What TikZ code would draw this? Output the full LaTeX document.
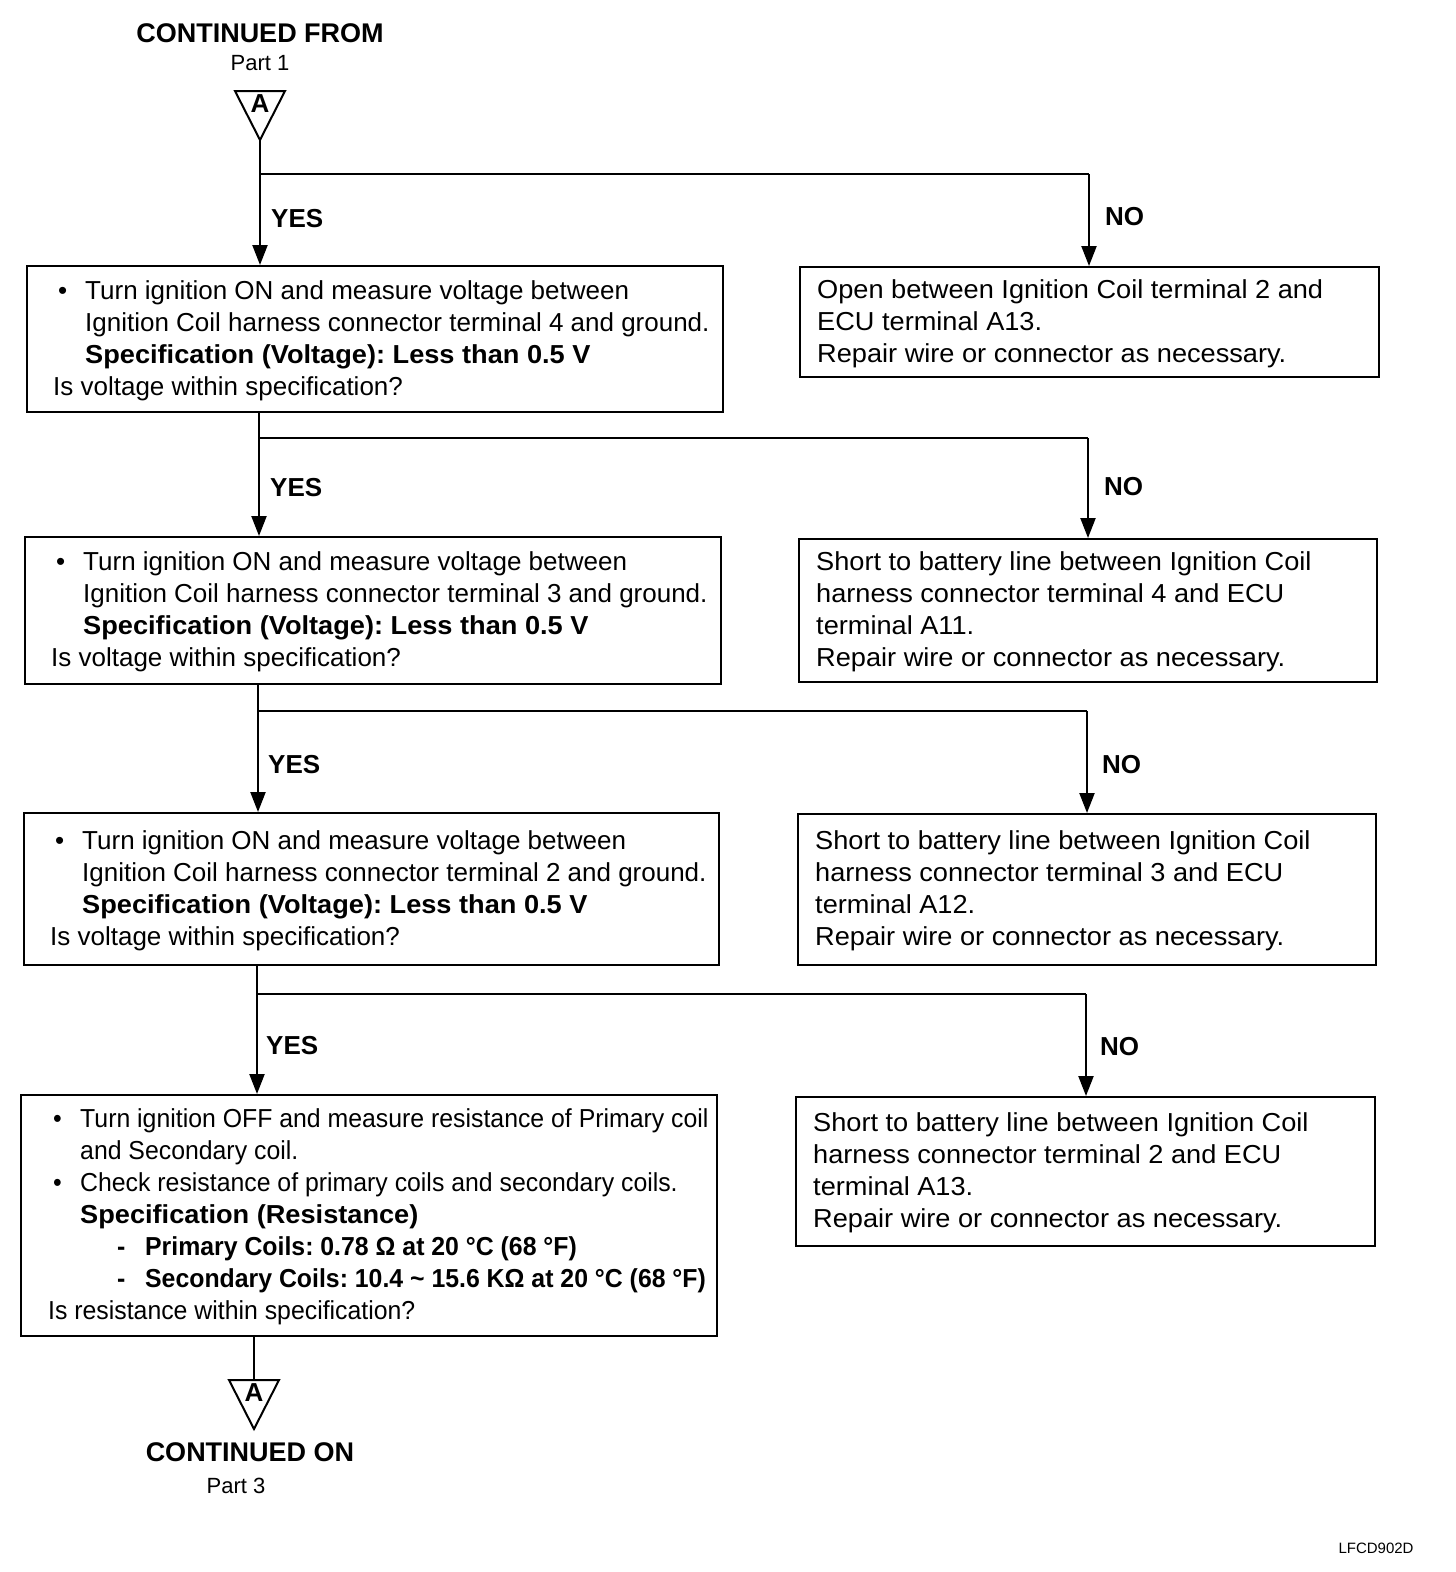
\documentclass[tikz,border=0pt]{standalone}
\usepackage{fontspec}
\setmainfont[FakeStretch=1.045]{Liberation Sans}
\newfontfamily\fLeft[FakeStretch=1.0]{Liberation Sans}
\newfontfamily\fNarrow[FakeStretch=0.955]{Liberation Sans}
\usetikzlibrary{arrows.meta}
\newcommand{\mybul}{\makebox[32pt][l]{\hspace*{5pt}\textbullet}}
\newcommand{\myind}{\hspace*{32pt}}
\newcommand{\mydash}{\hspace*{69pt}\makebox[28pt][l]{\textbf{-}}}
\newcommand{\specline}{{\normalfont\bfseries Specification (Voltage): Less than 0.5 V}}
\tikzset{
  boxs/.style={draw, line width=1.8pt, inner sep=0pt, anchor=north west},
  txt/.style={anchor=west, align=left, inner sep=0pt, yshift=-2pt, font=\fontsize{26}{32}\selectfont\frenchspacing},
  lbl/.style={anchor=west, inner sep=0pt, font=\fLeft\bfseries\fontsize{26}{30}\selectfont},
  hdr/.style={inner sep=0pt, font=\fLeft\bfseries\fontsize{27}{30}\selectfont},
  sub/.style={inner sep=0pt, font=\fLeft\fontsize{22}{26}\selectfont},
  conn/.style={line width=2.2pt},
  arr/.style={conn, -{Triangle[width=15pt,length=20pt]}},
  tri/.style={line width=2pt, line join=miter},
}
\begin{document}
\begin{tikzpicture}[x=1pt,y=-1pt]
\useasboundingbox[fill=white] (0,0) rectangle (1456,1572);

% header
\node[hdr] (cf) at (260,33) {CONTINUED FROM};
\node[sub] (p1) at (260,63) {Part 1};
\coordinate (apexA) at (260,140);
\draw[tri] (235,91) -- (285,91) -- (apexA) -- cycle;
\node[hdr, font=\fLeft\bfseries\fontsize{26}{28}\selectfont] (lA) at (260,104) {A};

% boxes left
\node[boxs, minimum width=696pt, minimum height=146pt] (b1) at (26,265) {};
\node[boxs, minimum width=696pt, minimum height=147pt] (b2) at (24,536) {};
\node[boxs, minimum width=695pt, minimum height=152pt] (b3) at (23,812) {};
\node[boxs, minimum width=696pt, minimum height=241pt] (b4) at (20,1094) {};
% boxes right
\node[boxs, minimum width=579pt, minimum height=110pt] (n1) at (799,266) {};
\node[boxs, minimum width=578pt, minimum height=143pt] (n2) at (798,538) {};
\node[boxs, minimum width=578pt, minimum height=151pt] (n3) at (797,813) {};
\node[boxs, minimum width=579pt, minimum height=149pt] (n4) at (795,1096) {};

% texts left
\node[txt] (t1) at ([xshift=27pt]b1.west) {\fLeft\strut\mybul Turn ignition ON and measure voltage between\\
\fLeft\myind Ignition Coil harness connector terminal 4 and ground.\\
\myind\specline\\
\fLeft Is voltage within specification?\strut};
\node[txt] (t2) at ([xshift=27pt]b2.west) {\fLeft\strut\mybul Turn ignition ON and measure voltage between\\
\fLeft\myind Ignition Coil harness connector terminal 3 and ground.\\
\myind\specline\\
\fLeft Is voltage within specification?\strut};
\node[txt] (t3) at ([xshift=27pt]b3.west) {\fLeft\strut\mybul Turn ignition ON and measure voltage between\\
\fLeft\myind Ignition Coil harness connector terminal 2 and ground.\\
\myind\specline\\
\fLeft Is voltage within specification?\strut};
\node[txt] (t4) at ([xshift=28pt]b4.west) {\fNarrow\strut\mybul Turn ignition OFF and measure resistance of Primary coil\\
\fNarrow\myind and Secondary coil.\\
\fNarrow\mybul Check resistance of primary coils and secondary coils.\\
\myind{\normalfont\bfseries Specification (Resistance)}\\
\fNarrow\mydash\textbf{Primary Coils: 0.78 Ω at 20 °C (68 °F)}\\
\fNarrow\mydash\textbf{Secondary Coils: 10.4 \textasciitilde\ 15.6 KΩ at 20 °C (68 °F)}\\
\fNarrow Is resistance within specification?\strut};

% texts right
\node[txt] (u1) at ([xshift=18pt]n1.west) {\strut Open between Ignition Coil terminal 2 and\\
ECU terminal A13.\\
Repair wire or connector as necessary.\strut};
\node[txt] (u2) at ([xshift=18pt]n2.west) {\strut Short to battery line between Ignition Coil\\
harness connector terminal 4 and ECU\\
terminal A11.\\
Repair wire or connector as necessary.\strut};
\node[txt] (u3) at ([xshift=18pt]n3.west) {\strut Short to battery line between Ignition Coil\\
harness connector terminal 3 and ECU\\
terminal A12.\\
Repair wire or connector as necessary.\strut};
\node[txt] (u4) at ([xshift=18pt]n4.west) {\strut Short to battery line between Ignition Coil\\
harness connector terminal 2 and ECU\\
terminal A13.\\
Repair wire or connector as necessary.\strut};

% junctions
\coordinate (j1) at (260,174); \coordinate (k1) at (1089,174);
\coordinate (j2) at (259,438); \coordinate (k2) at (1088,438);
\coordinate (j3) at (258,711); \coordinate (k3) at (1087,711);
\coordinate (j4) at (257,994); \coordinate (k4) at (1086,994);

\draw[conn] (apexA) -- (j1) -- (k1);
\draw[arr] (j1) -- (j1 |- b1.north);
\draw[arr] (k1) -- (k1 |- n1.north);

\draw[conn] (j2 |- b1.south) -- (j2) -- (k2);
\draw[arr] (j2) -- (j2 |- b2.north);
\draw[arr] (k2) -- (k2 |- n2.north);

\draw[conn] (j3 |- b2.south) -- (j3) -- (k3);
\draw[arr] (j3) -- (j3 |- b3.north);
\draw[arr] (k3) -- (k3 |- n3.north);

\draw[conn] (j4 |- b3.south) -- (j4) -- (k4);
\draw[arr] (j4) -- (j4 |- b4.north);
\draw[arr] (k4) -- (k4 |- n4.north);

% labels
\node[lbl] (y1) at (271,219) {YES};
\node[lbl] (y2) at (270,488) {YES};
\node[lbl] (y3) at (268,765) {YES};
\node[lbl] (y4) at (266,1046) {YES};
\node[lbl] (o1) at (1105,217) {NO};
\node[lbl] (o2) at (1104,487) {NO};
\node[lbl] (o3) at (1102,765) {NO};
\node[lbl] (o4) at (1100,1047) {NO};

% bottom connector
\coordinate (topB) at (254,1380);
\coordinate (apexB) at (254,1429);
\draw[conn] (topB |- b4.south) -- (topB);
\draw[tri] (229,1380) -- (279,1380) -- (apexB) -- cycle;
\node[hdr, font=\fLeft\bfseries\fontsize{26}{28}\selectfont] (lB) at (254,1393) {A};
\node[hdr] (co) at (250,1452) {CONTINUED ON};
\node[sub] (p3) at (236,1486) {Part 3};

\node[inner sep=0pt, font=\fLeft\fontsize{15}{18}\selectfont] (code) at (1376,1548) {LFCD902D};
\end{tikzpicture}
\end{document}
